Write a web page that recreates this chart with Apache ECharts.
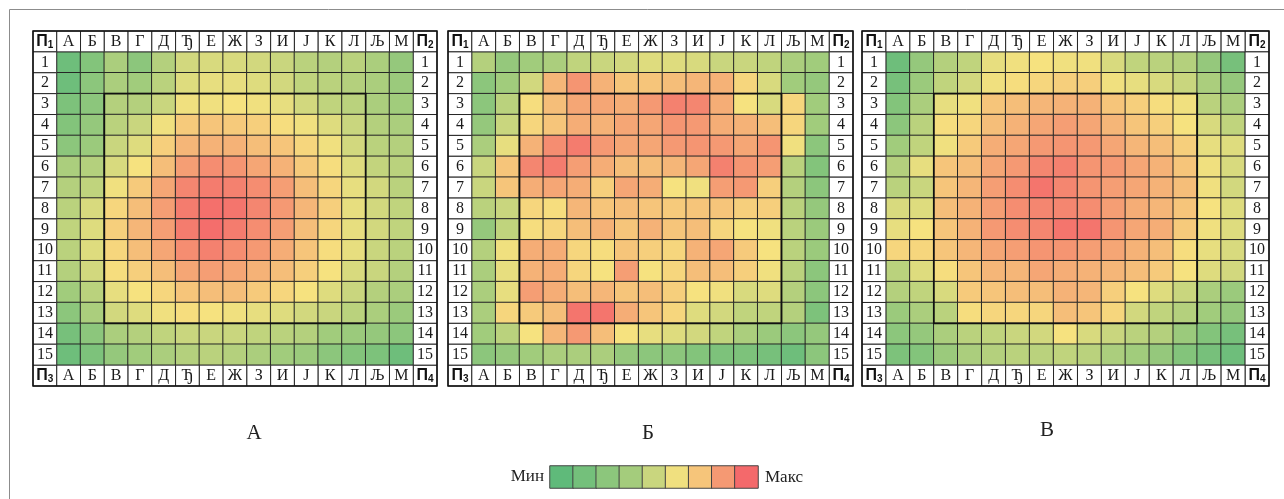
<!DOCTYPE html>
<html>
<head>
<meta charset="utf-8">
<script src="https://cdn.jsdelivr.net/npm/echarts@6/dist/echarts.min.js"></script>
<style>
    html, body { margin: 0; padding: 0; background: #fff; }
    #main { width: 1284px; height: 499px; }
</style>
</head>
<body>
<div id="main"></div>
<script>
// labels
var columns = ['А', 'Б', 'В', 'Г', 'Д', 'Ђ', 'Е', 'Ж', 'З', 'И', 'Ј', 'К', 'Л', 'Љ', 'М'];
var rows = ['1', '2', '3', '4', '5', '6', '7', '8', '9', '10', '11', '12', '13', '14', '15'];
var corners = ['1', '2', '3', '4'];          // П1 top-left, П2 top-right, П3 bottom-left, П4 bottom-right
var panelNames = ['А', 'Б', 'В'];
var legendLevels = [0, 7, 15, 23, 35, 48, 62, 80, 100];
var innerZone = { fromCol: 'В', toCol: 'Л', fromRow: '3', toRow: '13' };

// 0 = мин (зелено), 50 = жуто, 100 = макс (црвено)
var panelA = [
    [5, 12, 25, 15, 28, 38, 40, 40, 38, 35, 30, 28, 30, 25, 18],
    [5, 15, 25, 22, 30, 42, 45, 45, 42, 38, 32, 30, 28, 25, 20],
    [10, 15, 28, 28, 35, 48, 48, 50, 48, 45, 38, 32, 30, 25, 22],
    [12, 18, 30, 35, 48, 60, 62, 60, 58, 52, 48, 42, 35, 28, 25],
    [15, 20, 35, 42, 58, 68, 70, 70, 65, 62, 55, 48, 38, 30, 28],
    [25, 28, 40, 50, 65, 78, 85, 82, 75, 70, 60, 52, 42, 33, 30],
    [28, 32, 48, 60, 75, 88, 92, 90, 85, 78, 65, 55, 45, 38, 30],
    [30, 40, 55, 65, 78, 92, 97, 95, 88, 80, 68, 58, 45, 38, 32],
    [32, 42, 58, 68, 78, 92, 98, 92, 85, 78, 65, 55, 45, 38, 32],
    [30, 42, 55, 65, 75, 85, 90, 85, 80, 72, 62, 52, 45, 35, 30],
    [28, 38, 52, 58, 65, 75, 78, 75, 70, 65, 58, 50, 40, 35, 28],
    [22, 30, 45, 50, 55, 62, 65, 65, 60, 55, 50, 42, 35, 28, 25],
    [15, 25, 38, 42, 48, 52, 50, 48, 45, 42, 38, 35, 30, 25, 20],
    [8, 15, 25, 28, 32, 35, 35, 35, 32, 30, 28, 22, 20, 18, 15],
    [5, 10, 18, 22, 25, 28, 30, 28, 25, 22, 20, 15, 12, 10, 5]
];
var panelB = [
    [28, 18, 22, 25, 32, 35, 38, 42, 42, 40, 35, 35, 32, 25, 22],
    [15, 22, 38, 68, 82, 70, 62, 62, 65, 68, 70, 55, 40, 22, 18],
    [15, 30, 52, 65, 75, 75, 72, 80, 90, 88, 72, 50, 40, 55, 22],
    [18, 35, 55, 62, 72, 70, 75, 75, 82, 80, 72, 70, 65, 55, 22],
    [25, 45, 70, 85, 92, 80, 75, 75, 80, 82, 80, 75, 82, 48, 15],
    [35, 62, 88, 92, 78, 72, 65, 65, 68, 75, 90, 82, 78, 30, 12],
    [35, 62, 72, 75, 72, 58, 75, 72, 50, 48, 78, 80, 58, 28, 15],
    [30, 35, 55, 52, 68, 62, 65, 62, 60, 62, 62, 58, 58, 30, 18],
    [18, 32, 52, 55, 65, 70, 62, 70, 62, 65, 55, 50, 48, 30, 20],
    [28, 48, 72, 72, 55, 52, 62, 58, 55, 70, 75, 60, 50, 30, 20],
    [25, 45, 70, 72, 55, 50, 78, 50, 55, 65, 65, 58, 48, 30, 15],
    [25, 45, 78, 72, 65, 68, 62, 65, 58, 50, 48, 40, 42, 28, 15],
    [25, 55, 60, 65, 95, 95, 72, 62, 55, 42, 38, 32, 32, 28, 10],
    [22, 30, 50, 68, 80, 65, 50, 45, 42, 38, 32, 25, 20, 15, 18],
    [15, 18, 22, 25, 25, 25, 18, 15, 15, 12, 10, 10, 8, 5, 15]
];
var panelV = [
    [5, 18, 28, 32, 45, 48, 50, 48, 48, 40, 32, 30, 28, 18, 8],
    [8, 20, 32, 38, 48, 52, 55, 58, 58, 48, 45, 40, 35, 25, 18],
    [12, 25, 45, 48, 62, 65, 68, 70, 70, 62, 58, 52, 48, 30, 25],
    [15, 30, 52, 55, 65, 70, 75, 78, 75, 68, 62, 58, 50, 40, 32],
    [22, 32, 48, 60, 72, 75, 80, 82, 80, 75, 68, 65, 58, 45, 42],
    [28, 45, 62, 65, 75, 80, 88, 90, 82, 80, 75, 70, 62, 48, 40],
    [30, 35, 62, 68, 78, 85, 95, 88, 82, 78, 75, 70, 65, 48, 38],
    [40, 42, 65, 70, 78, 85, 88, 88, 85, 78, 72, 68, 62, 50, 42],
    [45, 50, 62, 70, 80, 85, 88, 95, 95, 82, 75, 72, 60, 48, 42],
    [55, 55, 62, 68, 75, 78, 82, 82, 78, 75, 70, 65, 52, 45, 40],
    [30, 42, 52, 62, 68, 68, 75, 72, 70, 68, 65, 60, 50, 42, 38],
    [28, 32, 40, 60, 62, 65, 65, 70, 68, 58, 50, 42, 35, 25, 20],
    [20, 25, 30, 52, 55, 55, 55, 65, 62, 55, 38, 32, 28, 22, 18],
    [15, 18, 25, 30, 32, 35, 38, 50, 40, 35, 30, 28, 20, 12, 8],
    [10, 12, 20, 25, 28, 30, 30, 32, 30, 25, 22, 18, 12, 8, 5]
];
var panels = [panelA, panelB, panelV];

var chartDom = document.getElementById('main');
var myChart = echarts.init(chartDom);

var serif = 'Liberation Serif, DejaVu Serif, serif';
var sans = 'Liberation Sans, Arial, sans-serif';
var lineColor = '#262626';

// table boxes (left, width) for each panel
var boxes = [
    { left: 33, top: 31, width: 404, height: 355 },
    { left: 448, top: 31, width: 405, height: 355 },
    { left: 862, top: 31, width: 407, height: 355 }
];
var captionPos = [[254, 433], [648, 433], [1047, 430]];

var n = columns.length;                 // 15
var xCats = ['П1'].concat(columns, ['П2']);
var yCats = ['h'].concat(rows, ['f']);

// label cells around the table
var labelCells = [];
var labelTexts = [];
function addLabel(x, y, t) {
    labelCells.push([x, y]);
    labelTexts.push(t);
}
addLabel(0, 0, '{p|П}{s|' + corners[0] + '}');
addLabel(n + 1, 0, '{p|П}{s|' + corners[1] + '}');
addLabel(0, n + 1, '{p|П}{s|' + corners[2] + '}');
addLabel(n + 1, n + 1, '{p|П}{s|' + corners[3] + '}');
columns.forEach(function (c, i) {
    addLabel(i + 1, 0, c);
    addLabel(i + 1, rows.length + 1, c);
});
rows.forEach(function (r, i) {
    addLabel(0, i + 1, r);
    addLabel(n + 1, i + 1, r);
});

function renderLabel(params, api) {
    var p = api.coord([api.value(0), api.value(1)]);
    var s = api.size([1, 1]);
    var t = labelTexts[params.dataIndex];
    return {
        type: 'rect',
        shape: { x: p[0] - s[0] / 2, y: p[1] - s[1] / 2, width: s[0], height: s[1] },
        style: { fill: '#fff', stroke: lineColor, lineWidth: 1 },
        textContent: {
            style: {
                text: t,
                fontFamily: serif,
                fontSize: 16,
                fill: '#1a1a1a',
                rich: {
                    p: { fontFamily: sans, fontWeight: 'bold', fontSize: 16, lineHeight: 18, fill: '#111' },
                    s: { fontFamily: sans, fontWeight: 'bold', fontSize: 10, lineHeight: 9, verticalAlign: 'bottom', fill: '#111' }
                }
            }
        },
        textConfig: { position: 'inside' }
    };
}

function renderFrame(params, api) {
    var s = api.size([1, 1]);
    var a = api.coord([0, 0]);
    var b = api.coord([n + 1, rows.length + 1]);
    var c0 = api.coord([columns.indexOf(innerZone.fromCol) + 1, rows.indexOf(innerZone.fromRow) + 1]);
    var c1 = api.coord([columns.indexOf(innerZone.toCol) + 1, rows.indexOf(innerZone.toRow) + 1]);
    return {
        type: 'group',
        children: [{
            type: 'rect',
            shape: { x: a[0] - s[0] / 2, y: a[1] - s[1] / 2, width: b[0] - a[0] + s[0], height: b[1] - a[1] + s[1] },
            style: { fill: null, stroke: '#111', lineWidth: 1.5 }
        }, {
            type: 'rect',
            shape: { x: c0[0] - s[0] / 2, y: c0[1] - s[1] / 2, width: c1[0] - c0[0] + s[0], height: c1[1] - c0[1] + s[1] },
            style: { fill: null, stroke: '#111', lineWidth: 1.8 }
        }]
    };
}

var grids = [], xAxes = [], yAxes = [], series = [], heatIdx = [], graphics = [];

panels.forEach(function (vals, pi) {
    var b = boxes[pi];
    grids.push({ left: b.left, top: b.top, width: b.width, height: b.height });
    xAxes.push({ type: 'category', gridIndex: pi, data: xCats, show: false });
    yAxes.push({ type: 'category', gridIndex: pi, data: yCats, inverse: true, show: false });

    var data = [];
    vals.forEach(function (row, r) {
        row.forEach(function (v, c) {
            data.push([c + 1, r + 1, v]);
        });
    });
    heatIdx.push(series.length);
    series.push({
        type: 'heatmap',
        xAxisIndex: pi,
        yAxisIndex: pi,
        data: data,
        itemStyle: { borderColor: lineColor, borderWidth: 1 },
        emphasis: { disabled: true }
    });
    series.push({
        type: 'custom',
        xAxisIndex: pi,
        yAxisIndex: pi,
        data: labelCells,
        renderItem: renderLabel,
        silent: true
    });
    series.push({
        type: 'custom',
        xAxisIndex: pi,
        yAxisIndex: pi,
        data: [[0, 0]],
        renderItem: renderFrame,
        silent: true,
        z: 5
    });
    graphics.push({
        type: 'text',
        x: captionPos[pi][0],
        y: captionPos[pi][1],
        style: { text: panelNames[pi], fontFamily: serif, fontSize: 21, fill: '#222', align: 'center', verticalAlign: 'middle' }
    });
});

// legend strip
grids.push({ left: 550, top: 466, width: 208, height: 22 });
xAxes.push({ type: 'category', gridIndex: 3, data: legendLevels.map(String), show: false });
yAxes.push({ type: 'category', gridIndex: 3, data: ['l'], show: false });
heatIdx.push(series.length);
series.push({
    type: 'heatmap',
    xAxisIndex: 3,
    yAxisIndex: 3,
    data: legendLevels.map(function (v, i) { return [i, 0, v]; }),
    itemStyle: { borderColor: '#444', borderWidth: 1 },
    emphasis: { disabled: true }
});
graphics.push({
    type: 'text', x: 544, y: 477,
    style: { text: 'Мин', fontFamily: serif, fontSize: 17, fill: '#222', align: 'right', verticalAlign: 'middle' }
});
graphics.push({
    type: 'text', x: 765, y: 478,
    style: { text: 'Макс', fontFamily: serif, fontSize: 17, fill: '#222', align: 'left', verticalAlign: 'middle' }
});
// outer frame of the figure
graphics.push({
    type: 'rect',
    shape: { x: 9.5, y: 9.5, width: 1300, height: 520 },
    style: { fill: null, stroke: '#8c8c8c', lineWidth: 1 },
    z: -1
});

var option = {
    animation: false,
    backgroundColor: '#fff',
    grid: grids,
    xAxis: xAxes,
    yAxis: yAxes,
    visualMap: {
        type: 'continuous',
        min: 0,
        max: 100,
        show: false,
        seriesIndex: heatIdx,
        inRange: { color: ['#5FBA7A', '#F6E27F', '#F4696B'] }
    },
    graphic: graphics,
    series: series
};

option && myChart.setOption(option);
</script>
</body>
</html>
